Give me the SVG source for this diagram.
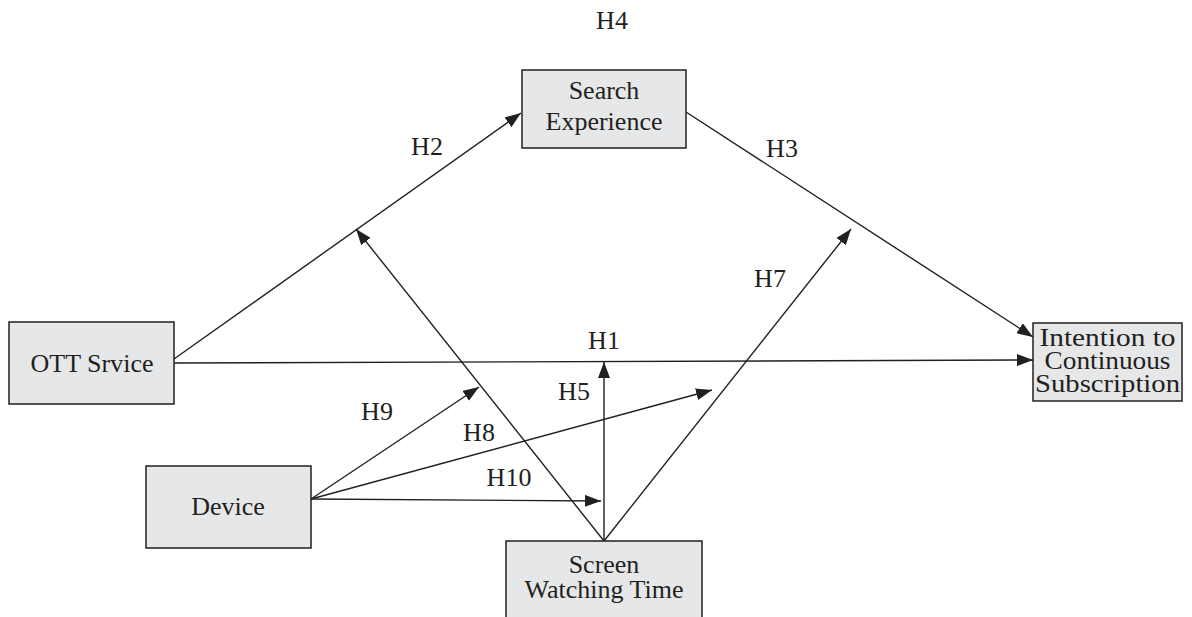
<svg xmlns="http://www.w3.org/2000/svg" width="1192" height="617" viewBox="0 0 1192 617">
<defs>
<style>
.box{fill:#e6e7e8;stroke:#231f20;stroke-width:1.5}
.t{font-family:"Liberation Serif","Times New Roman",serif;font-size:26px;fill:#231f20;text-anchor:middle}
.lbl{font-family:"Liberation Serif","Times New Roman",serif;font-size:26px;fill:#231f20;text-anchor:middle}
.c{stroke:#231f20;stroke-width:1.4;fill:none;marker-end:url(#ah)}
</style>
<marker id="ah" viewBox="0 0 10 10" refX="10" refY="5" markerWidth="16" markerHeight="12" markerUnits="userSpaceOnUse" orient="auto" preserveAspectRatio="none">
<path d="M0,0 L10,5 L0,10 z" fill="#231f20"/>
</marker>
</defs>
<rect width="1192" height="617" fill="#ffffff"/>
<g id="connectors">
<line class="c" x1="174" y1="359" x2="521" y2="113"/>
<line class="c" x1="686" y1="112" x2="1033" y2="337"/>
<line class="c" x1="174" y1="363" x2="1033" y2="360"/>
<line class="c" x1="604" y1="541" x2="356" y2="229"/>
<line class="c" x1="604" y1="541" x2="851" y2="229"/>
<line class="c" x1="604" y1="541" x2="604" y2="362"/>
<line class="c" x1="311" y1="499" x2="479" y2="387"/>
<line class="c" x1="311" y1="499" x2="712" y2="390"/>
<line class="c" x1="311" y1="499" x2="601" y2="501"/>
</g>
<g id="labels">
<text class="lbl" x="612" y="29">H4</text>
<text class="lbl" x="427" y="155">H2</text>
<text class="lbl" x="782" y="157">H3</text>
<text class="lbl" x="770" y="287">H7</text>
<text class="lbl" x="604" y="349">H1</text>
<text class="lbl" x="574" y="400">H5</text>
<text class="lbl" x="377" y="420">H9</text>
<text class="lbl" x="479" y="441">H8</text>
<text class="lbl" x="509" y="486">H10</text>
</g>
<g id="search">
<rect class="box" x="522" y="70" width="164" height="78"/>
<text class="t" x="604" y="99">Search</text>
<text class="t" x="604" y="130">Experience</text>
</g>
<g id="ott">
<rect class="box" x="9" y="322" width="165" height="82"/>
<text class="t" x="92" y="372">OTT Srvice</text>
</g>
<g id="intention">
<rect class="box" x="1033" y="323" width="149" height="78"/>
<text class="t" x="1107.5" y="346" style="font-size:26px" textLength="136" lengthAdjust="spacingAndGlyphs">Intention to</text>
<text class="t" x="1107.5" y="369" style="font-size:26px" textLength="126" lengthAdjust="spacingAndGlyphs">Continuous</text>
<text class="t" x="1107.5" y="392" style="font-size:26px" textLength="145" lengthAdjust="spacingAndGlyphs">Subscription</text>
</g>
<g id="device">
<rect class="box" x="146" y="466" width="165" height="82"/>
<text class="t" x="228" y="515">Device</text>
</g>
<g id="screen">
<rect class="box" x="506" y="541" width="196" height="90"/>
<text class="t" x="604" y="573">Screen</text>
<text class="t" x="604" y="598">Watching Time</text>
</g>
</svg>
